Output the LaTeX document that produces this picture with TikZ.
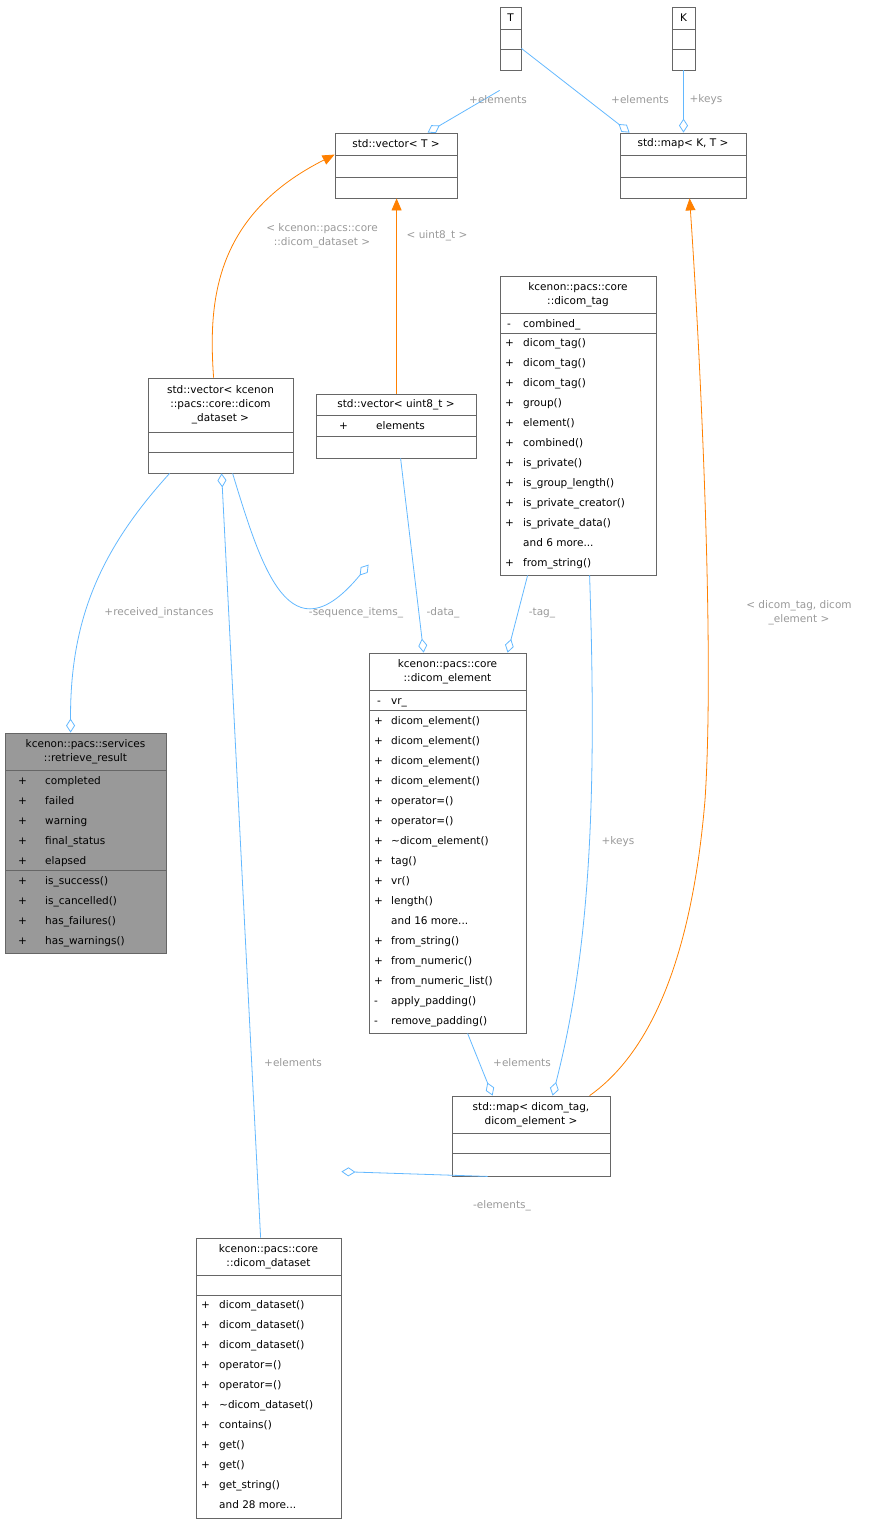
\documentclass[tikz,border=0pt]{standalone}
\usepackage{fontspec}
\setmainfont{DejaVu Sans}
\usetikzlibrary{arrows.meta,fit,calc}
\newcommand\mydots{.\kern0pt.\kern0pt.}
\begin{document}
\begin{tikzpicture}[x=1pt,y=-1pt,
  box/.style={draw=black!60,inner sep=0pt,line width=0.8pt},
  txt/.style={inner sep=0pt,font=\fontsize{10.5}{14}\selectfont},
  ttl/.style={txt,align=center},
  lbl/.style={inner sep=0pt,font=\fontsize{10.5}{14}\selectfont,text=black!40,align=center},
  agg/.style={draw=blue63,line width=0.8pt,-{Diamond[open,length=14pt,width=9pt]}},
  tmpl/.style={draw=orange,line width=0.8pt,-{Triangle[length=12pt,width=10pt,fill=orange]}}]
\definecolor{blue63}{HTML}{63B8FF}
\useasboundingbox (0,0) rectangle (871,1524);
\newcommand\mkbox[6]{\node[box,fit={(#2,#3)(#4,#5)},#6] (#1) {};}
\newcommand\sep[3]{\draw[black!60,line width=0.8pt] (#1,#3) -- (#2,#3);}
\newcommand\rowz[4]{\foreach \s/\t [count=\i from 0] in {#4} {\node[txt,anchor=base west] at (#1,#3+4+20*\i) {\s}; \node[txt,anchor=base west] at (#2,#3+4+20*\i) {\t};}}
% T
\mkbox{T}{500}{7}{521}{70}{}
\sep{500}{521}{29}\sep{500}{521}{49}
\node[txt] at (510.5,18) {T};
% K
\mkbox{K}{672}{7}{695}{70}{}
\sep{672}{695}{29}\sep{672}{695}{49}
\node[txt] at (683.5,18) {K};
% vector<T>
\mkbox{vT}{335}{133}{457}{198}{}
\sep{335}{457}{155}\sep{335}{457}{177}
\node[txt] at (396,144) {std::vector< T >};
% map<K,T>
\mkbox{mKT}{620}{133}{746}{198}{}
\sep{620}{746}{155}\sep{620}{746}{177}
\node[txt] at (683,144) {std::map< K, T >};
% vector<dataset>
\mkbox{vD}{148}{378}{293}{473}{}
\sep{148}{293}{432}\sep{148}{293}{452}
\node[ttl] at (220.5,405) {std::vector< kcenon\\::pacs::core::dicom\\\_dataset >};
% vector<uint8_t>
\mkbox{vU}{316}{394}{476}{458}{}
\sep{316}{476}{415}\sep{316}{476}{436}
\node[txt] at (396,405) {std::vector< uint8\_t >};
\rowz{339}{376}{425}{+/elements}
% dicom_tag
\mkbox{tag}{500}{276}{656}{575}{}
\sep{500}{656}{313}\sep{500}{656}{333}
\node[ttl] at (578,294.5) {kcenon::pacs::core\\::dicom\_tag};
\rowz{507}{523}{323}{-/combined\_}
\rowz{505}{523}{342}{+/dicom\_tag(),+/dicom\_tag(),+/dicom\_tag(),+/group(),+/element(),+/combined(),+/is\_private(),+/is\_group\_length(),+/is\_private\_creator(),+/is\_private\_data(),{}/and 6 more\mydots,+/from\_string()}
% retrieve_result
\mkbox{rr}{5}{733}{166}{953}{fill=black!40}
\sep{5}{166}{770}\sep{5}{166}{870}
\node[ttl] at (85.5,751.5) {kcenon::pacs::services\\::retrieve\_result};
\rowz{18}{45}{780}{+/completed,+/failed,+/warning,+/final\_status,+/elapsed}
\rowz{18}{45}{880}{+/is\_success(),+/is\_cancelled(),+/has\_failures(),+/has\_warnings()}
% dicom_element
\mkbox{el}{369}{653}{526}{1033}{}
\sep{369}{526}{690}\sep{369}{526}{710}
\node[ttl] at (447.5,671.5) {kcenon::pacs::core\\::dicom\_element};
\rowz{377}{391}{700}{-/vr\_}
\rowz{374}{391}{720}{+/dicom\_element(),+/dicom\_element(),+/dicom\_element(),+/dicom\_element(),+/operator=(),+/operator=(),+/\textasciitilde dicom\_element(),+/tag(),+/vr(),+/length(),{}/and 16 more\mydots,+/from\_string(),+/from\_numeric(),+/from\_numeric\_list(),-/apply\_padding(),-/remove\_padding()}
% map<dicom_tag,dicom_element>
\mkbox{mTE}{452}{1096}{610}{1176}{}
\sep{452}{610}{1133}\sep{452}{610}{1153}
\node[ttl] at (531,1114.5) {std::map< dicom\_tag,\\dicom\_element >};
% dicom_dataset
\mkbox{ds}{196}{1238}{341}{1518}{}
\sep{196}{341}{1275}\sep{196}{341}{1295}
\node[ttl] at (268.5,1256.5) {kcenon::pacs::core\\::dicom\_dataset};
\rowz{201}{219}{1304}{+/dicom\_dataset(),+/dicom\_dataset(),+/dicom\_dataset(),+/operator=(),+/operator=(),+/\textasciitilde dicom\_dataset(),+/contains(),+/get(),+/get(),+/get\_string(),{}/and 28 more\mydots}
% edges
\draw[agg] ([yshift=-20pt]T.south west) -- ([xshift=93pt]vT.north west);
\draw[agg] ([yshift=22pt]T.south east) -- ([xshift=10pt]mKT.north west);
\draw[agg] (K.south) -- (K.south |- mKT.north);
\node[lbl] at (498,100) {+elements};
\node[lbl] at (640,100) {+elements};
\node[lbl] at (706,100) {+keys};
\draw[tmpl] ([xshift=66pt]vD.north west) .. controls (208,300) and (215,215) .. ([yshift=-22pt]vT.north west);
\draw[tmpl] ([xshift=81pt]vU.north west) -- ([xshift=62pt]vT.south west);
\node[lbl] at (322,236) {< kcenon::pacs::core\\::dicom\_dataset >};
\node[lbl] at (437,236) {< uint8\_t >};
\draw[tmpl] ([xshift=138pt]mTE.north west) .. controls (640,1060) and (690,980) .. (705,800) .. controls (715,650) and (700,350) .. ([xshift=70pt]mKT.south west);
\node[lbl] at (799,613) {< dicom\_tag, dicom\\\_element >};
\draw[agg] ([xshift=22pt]vD.south west) .. controls (100,550) and (70,620) .. ([xshift=66pt]rr.north west);
\node[lbl] at (159,613) {+received\_instances};
\draw[agg] ([xshift=65pt]ds.north west) -- ([xshift=74pt]vD.south west);
\node[lbl] at (293,1063) {+elements};
\draw[agg] ([xshift=85pt]vD.south west) .. controls (262,570) and (290,660) .. ([yshift=88pt]el.north west);
\node[lbl] at (356,613) {-sequence\_items\_};
\draw[agg] ([xshift=85pt]vU.south west) -- ([xshift=55pt]el.north west);
\node[lbl] at (443,613) {-data\_};
\draw[agg] ([xshift=28pt]tag.south west) -- ([xshift=139pt]el.north west);
\node[lbl] at (542,613) {-tag\_};
\draw[agg] ([xshift=99pt]el.south west) -- ([xshift=41pt]mTE.north west);
\node[lbl] at (522,1063) {+elements};
\draw[agg] ([xshift=90pt]tag.south west) .. controls (597,800) and (590,950) .. ([xshift=101pt]mTE.north west);
\node[lbl] at (618,842) {+keys};
\draw[agg] ([xshift=36pt]mTE.south west) -- ([yshift=66pt]ds.north east);
\node[lbl] at (502,1206) {-elements\_};
\end{tikzpicture}
\end{document}
